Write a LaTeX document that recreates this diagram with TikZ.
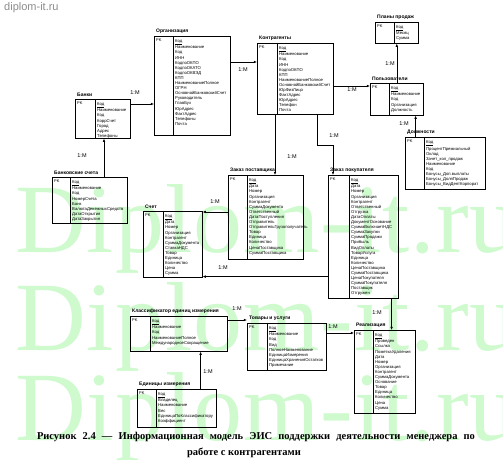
\documentclass[tikz,border=0pt]{standalone}
\usepackage{fontspec}
\setmainfont{Liberation Sans}
\newfontfamily\capfont{Liberation Serif}
\newfontfamily\wmfont[LetterSpace=1]{Liberation Serif}
\usepackage{xcolor}
\usepackage{tikz}
\usetikzlibrary{positioning, arrows.meta, calc}
\definecolor{wmgreen}{RGB}{206,250,206}

\begin{document}
\begin{tikzpicture}[
    x=1pt, y=-1pt,
    % ---- Сущность ----
    entity/.style={draw, line width=0.6pt, anchor=north west, inner sep=0pt},
    etitle/.style={anchor=south west, inner sep=0pt, xshift=2pt, yshift=2pt,
        font=\fontsize{5}{6}\selectfont\bfseries},
    pkcol/.style={anchor=north west, inner sep=0pt, xshift=2pt, yshift=-3pt,
        font=\fontsize{4}{5}\selectfont},
    fields/.style={anchor=north west, inner sep=0pt, xshift=2pt, yshift=-3pt,
        align=left, font=\fontsize{4.2}{5.1}\selectfont},
    sep/.style={line width=0.6pt},
    % ---- Связь ----
    rel/.style={line width=0.6pt, -{Latex[length=3.2pt,width=2.6pt]}},
    % ---- Кратность ----
    mult/.style={font=\fontsize{5.5}{6}\selectfont, inner sep=0pt},
    % ---- Подпись и фон ----
    capline/.style={inner sep=0pt, font=\capfont\bfseries\fontsize{10.5}{12}\selectfont},
    site/.style={anchor=west, inner sep=0pt, text=black!45, font=\fontsize{11}{12}\selectfont},
    wmark/.style={anchor=base west, inner sep=0pt, text=wmgreen,
        font=\wmfont\fontsize{98}{98}\selectfont}
]
\useasboundingbox (0,0) rectangle (503,460);

% ---- Макросы полей ----
\newcommand{\pkf}[1]{\underline{#1}\\}
\newcommand{\fld}[1]{#1\\}
% имя, позиция, ширина, высота, ширина PK, заголовок, поля
\newcommand{\entity}[7]{%
    \node[entity, minimum width=#3pt, minimum height=#4pt] (#1) at #2 {};
    \node[etitle] (#1T) at (#1.north west) {#6};
    \node[pkcol] (#1K) at (#1.north west) {PK};
    \node[fields] (#1F) at ([xshift=#5pt]#1.north west) {#7};
    \draw[sep] ([xshift=#5pt]#1.north west) -- ([xshift=#5pt]#1.south west);
}

% ---- Водяной знак ----
\foreach \wy [count=\i] in {252,350,440}
    \node[wmark] (wm\i) at (15,\wy) {Diplom-it.ru};
\node[site] (site) at (4,8) {diplom-it.ru};

% ---------- ВЕРХ: банки, организация, контрагенты ----------
\entity{Bank}{(75,99)}{55}{39}{20}{Банки}{
    \pkf{Код}
    \fld{Наименование}
    \fld{Код}
    \fld{КоррСчет}
    \fld{Город}
    \fld{Адрес}
    \fld{Телефоны}}

\entity{Org}{(154,36)}{76}{99}{19}{Организация}{
    \pkf{Код}
    \fld{Наименование}
    \fld{Код}
    \fld{ИНН}
    \fld{КодпоОКПО}
    \fld{КодпоОКАТО}
    \fld{КодпоОКВЭД}
    \fld{КПП}
    \fld{НаименованиеПолное}
    \fld{ОГРН}
    \fld{ОсновнойБанковскийСчет}
    \fld{Руководитель}
    \fld{ГлавБух}
    \fld{ЮрАдрес}
    \fld{ФактАдрес}
    \fld{Телефоны}
    \fld{Почта}}

\entity{Contr}{(257,43)}{76}{71}{20}{Контрагенты}{
    \pkf{Код}
    \fld{Наименование}
    \fld{Код}
    \fld{ИНН}
    \fld{КодпоОКПО}
    \fld{КПП}
    \fld{НаименованиеПолное}
    \fld{ОсновнойБанковскийСчет}
    \fld{ЮрФизЛицо}
    \fld{ФактАдрес}
    \fld{ЮрАдрес}
    \fld{Телефон}
    \fld{Почта}}

% ---------- СПРАВА: планы, пользователи, должности ----------
\entity{Plan}{(375,22)}{43}{21}{19}{Планы продаж}{
    \pkf{Код}
    \fld{Месяц}
    \fld{Сумма}}

\entity{User}{(370,83)}{53}{32}{19}{Пользователи}{
    \pkf{Код}
    \fld{Наименование}
    \fld{Код}
    \fld{Организация}
    \fld{Должность}}

\entity{Post}{(405,137)}{80}{52}{19}{Должности}{
    \pkf{Код}
    \fld{ПроцентПремиальный}
    \fld{Оклад}
    \fld{Зачет\_кол\_продаж}
    \fld{Наименование}
    \fld{Код}
    \fld{Бонусы\_Доп.выплаты}
    \fld{Бонусы\_ДоляПродаж}
    \fld{Бонусы\_ВидДеятКорпорат}}

% ---------- СЕРЕДИНА: счета, заказы ----------
\entity{BAcc}{(52,177)}{75}{46}{18}{Банковские счета}{
    \pkf{Код}
    \fld{Наименование}
    \fld{Код}
    \fld{НомерСчета}
    \fld{Банк}
    \fld{ВалютаДенежныхСредств}
    \fld{ДатаОткрытия}
    \fld{ДатаЗакрытия}}

\entity{Invoice}{(143,211)}{59}{66}{20}{Счет}{
    \pkf{Код}
    \fld{Дата}
    \fld{Номер}
    \fld{Организация}
    \fld{Контрагент}
    \fld{СуммаДокумента}
    \fld{СтавкаНДС}
    \fld{Товар}
    \fld{Единица}
    \fld{Количество}
    \fld{Цена}
    \fld{Сумма}}

\entity{SupOrd}{(228,175)}{75}{84}{19}{Заказ поставщика}{
    \pkf{Код}
    \fld{Дата}
    \fld{Номер}
    \fld{Организация}
    \fld{Контрагент}
    \fld{СуммаДокумента}
    \fld{Ответственный}
    \fld{ДатаПоступления}
    \fld{Отправитель}
    \fld{ОтправительГрузополучатель}
    \fld{Товар}
    \fld{Единица}
    \fld{Количество}
    \fld{ЦенаПоставщика}
    \fld{СуммаПоставщика}}

\entity{CustOrd}{(328,175)}{70}{123}{21}{Заказ покупателя}{
    \pkf{Код}
    \fld{Дата}
    \fld{Номер}
    \fld{Организация}
    \fld{Контрагент}
    \fld{Ответственный}
    \fld{Отгрузка}
    \fld{ДатаОплаты}
    \fld{ДокументОснование}
    \fld{СуммаВключаетНДС}
    \fld{СуммаЗакупки}
    \fld{СуммаПродажи}
    \fld{Прибыль}
    \fld{ВидОплаты}
    \fld{ТоварУслуга}
    \fld{Единица}
    \fld{Количество}
    \fld{ЦенаПоставщика}
    \fld{СуммаПоставщика}
    \fld{ЦенаПокупателя}
    \fld{СуммаПокупателя}
    \fld{Поставщик}
    \fld{Отгружен}}

% ---------- НИЗ: единицы, товары, реализация ----------
\entity{UnitCls}{(130,316)}{97}{35}{20}{Классификатор единиц измерения}{
    \pkf{Код}
    \fld{Наименование}
    \fld{Код}
    \fld{НаименованиеПолное}
    \fld{МеждународноеСокращение}}

\entity{Goods}{(247,323)}{79}{47}{20}{Товары и услуги}{
    \pkf{Код}
    \fld{Наименование}
    \fld{Код}
    \fld{Вид}
    \fld{ПолноеНаименование}
    \fld{ЕдиницаИзмерения}
    \fld{ЕдиницаХраненияОстатков}
    \fld{Примечание}}

\entity{Sale}{(354,330)}{61}{83}{19}{Реализация}{
    \pkf{Код}
    \fld{Проведен}
    \fld{Ссылка}
    \fld{ПометкаУдаления}
    \fld{Дата}
    \fld{Номер}
    \fld{Организация}
    \fld{Контрагент}
    \fld{СуммаДокумента}
    \fld{Основание}
    \fld{Товар}
    \fld{Единица}
    \fld{Количество}
    \fld{Цена}
    \fld{Сумма}}

\entity{Unit}{(137,389)}{79}{38}{19}{Единицы измерения}{
    \pkf{Код}
    \fld{Владелец}
    \fld{Наименование}
    \fld{Вес}
    \fld{ЕдиницаПоКлассификатору}
    \fld{Коэффициент}}

% ============================================================
%  СВЯЗИ
% ============================================================

% банки -- организация
\draw[rel] ([yshift=-5pt]Bank.north east) -- ([yshift=-5pt]Bank.north east -| Org.west);
\node[mult] (m1) at (135,93) {1:M};

% организация -- контрагенты
\draw[rel] ([yshift=-19pt]Contr.north west -| Org.east) -- ([yshift=-19pt]Contr.north west);
\node[mult] (m2) at (243,70) {1:M};

% контрагенты -- пользователи
\draw[rel] ([yshift=-3pt]User.north west -| Contr.east) -- ([yshift=-3pt]User.north west);
\node[mult] (m3) at (352,90) {1:M};

% пользователи -- планы продаж
\draw[rel] (User.north) -- (Plan.south);
\node[mult] (m4) at (390,64) {1:M};

% должности -- пользователи
\draw[rel] ([xshift=-8pt]User.south east |- Post.north) -- ([xshift=-8pt]User.south east);
\node[mult] (m5) at (404,124) {1:M};

% банковские счета -- банки
\draw[rel] ([xshift=29pt]Bank.south west |- BAcc.north) -- ([xshift=29pt]Bank.south west);
\node[mult] (m6) at (82,156) {1:M};

% контрагенты -- заказ поставщика
\draw[rel] ([xshift=18pt]Contr.south west) -- ([xshift=18pt]Contr.south west |- SupOrd.north);
\node[mult] (m7) at (292,157) {1:M};

% контрагенты -- заказ покупателя
\draw[rel] ([xshift=-16pt]Contr.south east) -- ++(0,31) -| ([xshift=5pt]CustOrd.north west);
\node[mult] (m8) at (334,136) {1:M};

% заказ поставщика -- счет
\draw[rel] ([yshift=-1pt]Invoice.north east -| SupOrd.west) -- ([yshift=-1pt]Invoice.north east);
\node[mult] (m9) at (215,202) {1:M};

% заказ покупателя -- счет
\draw[rel] ([yshift=1pt]Invoice.south east -| CustOrd.west) -- ([yshift=1pt]Invoice.south east);
\node[mult] (m10) at (223,268) {1:M};

% заказ покупателя -- реализация
\draw[rel] ([xshift=-7pt]CustOrd.south east) -- ([xshift=-7pt]CustOrd.south east |- Sale.north);
\node[mult] (m11) at (377,313) {1:M};

% классификатор -- товары и услуги
\draw[rel] ([yshift=-4pt]UnitCls.north east) -- ([yshift=-4pt]UnitCls.north east -| Goods.west);
\node[mult] (m12) at (237,309) {1:M};

% товары и услуги -- реализация
\draw[rel] ([yshift=-10pt]Goods.north east) -- ([yshift=-10pt]Goods.north east -| Sale.west);
\node[mult] (m13) at (333,327) {1:M};

% единицы измерения -- классификатор
\draw[rel] ([xshift=-16pt]Unit.north east) -- ([xshift=-16pt]Unit.north east |- UnitCls.south);
\node[mult] (m14) at (208,372) {1:M};

% ---- Подпись рисунка ----
\node[capline] (cap1) at (256,437)
    {\makebox[438pt][s]{Рисунок 2.4 — Информационная модель ЭИС поддержки деятельности менеджера по}};
\node[capline] (cap2) at (244,452.5) {работе с контрагентами};

\end{tikzpicture}
\end{document}
